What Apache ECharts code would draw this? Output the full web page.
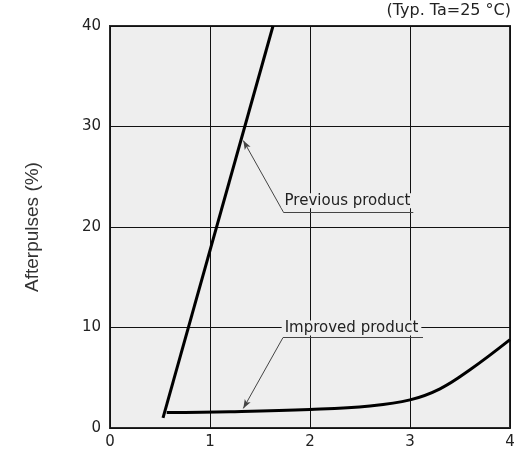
<!DOCTYPE html>
<html>
<head>
<meta charset="utf-8">
<script src="https://cdn.jsdelivr.net/npm/echarts@6/dist/echarts.min.js"></script>
<style>
html,body{margin:0;padding:0;background:#fff;}
#chart{width:519px;height:454px;}
</style>
</head>
<body>
<div id="chart"></div>
<script>
// Data
var xTicks = [0, 1, 2, 3, 4];
var yTicks = [0, 10, 20, 30, 40];
var previousProduct = [[0.53, 1.0], [1.63, 40]];
var improvedProduct = [
  [0.567, 1.53], [1.2, 1.62], [2.0, 1.85], [2.6, 2.2], [3.0, 2.8],
  [3.3, 3.9], [3.6, 5.8], [4.0, 8.8]
];
// Annotation geometry in data coordinates: tip, elbow, underline end, label centre
var prevNote = { text: 'Previous product', tip: [1.333, 28.6], elbow: [1.733, 21.5], end: [3.033, 21.5], label: [2.375, 22.6] };
var imprNote = { text: 'Improved product', tip: [1.333, 1.95], elbow: [1.73, 9.0], end: [3.13, 9.0], label: [2.415, 9.95] };
var conditionText = '(Typ. Ta=25 °C)';
var yTitle = 'Afterpulses (%)';

var chart = echarts.init(document.getElementById('chart'), null, { renderer: 'canvas' });
var font = 'DejaVu Sans';
function noteLines(n) {
  return [
    [{ coord: n.end, symbol: 'none' }, { coord: n.elbow, symbol: 'none' }],
    [{ coord: n.elbow, symbol: 'none' }, { coord: n.tip, symbol: 'arrow', symbolSize: [5, 9] }]
  ];
}
var option = {
  animation: false,
  backgroundColor: '#ffffff',
  grid: { left: 110, right: 9, top: 26, bottom: 26, show: true, backgroundColor: '#eeeeee', borderColor: '#2a2a2a', borderWidth: 2, containLabel: false },
  xAxis: {
    type: 'value', min: xTicks[0], max: xTicks[xTicks.length - 1], interval: 1,
    axisLine: { show: false }, axisTick: { show: false },
    axisLabel: { color: '#222', fontFamily: font, fontSize: 15, margin: 7 },
    splitLine: { show: true, lineStyle: { color: '#111', width: 1 } }
  },
  yAxis: {
    type: 'value', min: yTicks[0], max: yTicks[yTicks.length - 1], interval: 10,
    name: yTitle, nameLocation: 'middle', nameGap: 68,
    nameTextStyle: { color: '#333', fontFamily: 'Liberation Sans', fontSize: 19 },
    axisLine: { show: false }, axisTick: { show: false },
    axisLabel: { color: '#222', fontFamily: font, fontSize: 15, margin: 9 },
    splitLine: { show: true, lineStyle: { color: '#111', width: 1 } }
  },
  series: [
    {
      type: 'line', name: 'Previous product', data: previousProduct, showSymbol: false,
      lineStyle: { color: '#000', width: 3 }, z: 5
    },
    {
      type: 'line', name: 'Improved product', data: improvedProduct, showSymbol: false,
      smooth: 0.4,
      lineStyle: { color: '#000', width: 3 }, z: 5,
      markLine: {
        silent: true, animation: false,
        lineStyle: { color: '#444', width: 1, type: 'solid' },
        label: { show: false },
        emphasis: { disabled: true },
        data: noteLines(prevNote).concat(noteLines(imprNote))
      }
    }
  ]
};
chart.setOption(option);

function labelGraphic(n) {
  var p = chart.convertToPixel({ gridIndex: 0 }, n.label);
  return {
    type: 'text', x: p[0], y: p[1], z: 10,
    style: {
      text: n.text, fill: '#222', font: '15px "DejaVu Sans"',
      align: 'center', verticalAlign: 'middle',
      backgroundColor: '#eeeeee', padding: [0, 3]
    }
  };
}
chart.setOption({
  graphic: [
    labelGraphic(prevNote),
    labelGraphic(imprNote),
    {
      type: 'text', right: 8, top: 3, z: 10,
      style: { text: conditionText, fill: '#222', font: '16px "DejaVu Sans"' }
    }
  ]
});
</script>
</body>
</html>
